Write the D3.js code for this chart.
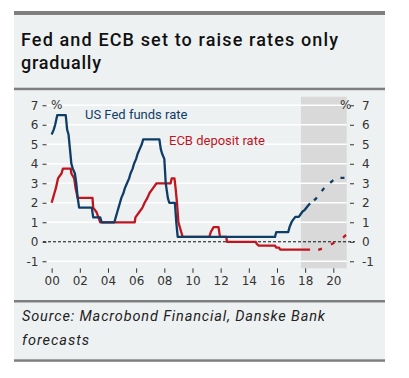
<!DOCTYPE html>
<html><head><meta charset="utf-8">
<script src="https://cdn.jsdelivr.net/npm/d3@7"></script>
<style>body{margin:0;background:#fff}svg{display:block}</style>
</head><body>
<script>
// ---- data (decimal year, percent) ----
const fedYears = [2000.0,2000.15,2000.25,2000.4,2001.0,2001.1,2001.2,2001.3,2001.4,2001.5,2001.65,2001.75,2001.85,2001.95,2002.85,2002.95,2003.45,2003.55,2004.45,2004.55,2004.65,2004.75,2004.85,2004.95,2005.1,2005.2,2005.35,2005.5,2005.6,2005.75,2005.85,2006.0,2006.1,2006.25,2006.4,2006.5,2007.65,2007.75,2007.85,2008.0,2008.1,2008.25,2008.35,2008.75,2008.85,2008.95,2015.86,2015.95,2016.8,2016.9,2017.05,2017.3,2017.55,2017.8,2017.95,2018.2,2018.35];
const fedValues = [5.5,5.75,6.0,6.5,6.5,5.75,5.5,4.75,4.0,3.75,3.5,3.0,2.25,1.75,1.75,1.25,1.25,1.0,1.0,1.25,1.5,1.75,2.0,2.25,2.5,2.75,3.0,3.25,3.5,3.75,4.0,4.25,4.5,4.75,5.0,5.25,5.25,4.75,4.5,4.25,3.0,2.25,2.0,2.0,1.0,0.25,0.25,0.5,0.5,0.77,1.03,1.28,1.28,1.54,1.62,1.85,1.97];
const fedFcYears = [2018.35,2018.75,2019.4,2019.9,2020.2,2020.95];
const fedFcValues = [1.97,2.2,2.8,3.1,3.28,3.28];

const ecbYears = [2000.0,2000.1,2000.2,2000.3,2000.45,2000.7,2000.8,2001.35,2001.4,2001.6,2001.7,2001.85,2002.9,2002.95,2003.2,2003.45,2005.9,2005.95,2006.2,2006.45,2006.6,2006.8,2006.95,2007.2,2007.45,2008.45,2008.52,2008.72,2008.8,2008.9,2009.0,2009.2,2009.3,2011.2,2011.3,2011.5,2011.85,2011.95,2012.4,2012.45,2014.5,2014.55,2014.7,2015.86,2015.95,2016.15,2016.22,2018.35];
const ecbValues = [2.0,2.25,2.5,2.75,3.25,3.5,3.75,3.75,3.5,3.25,2.75,2.25,2.25,1.75,1.5,1.0,1.0,1.25,1.5,1.75,2.0,2.25,2.5,2.75,3.0,3.0,3.25,3.25,2.75,2.0,1.0,0.5,0.25,0.25,0.5,0.75,0.75,0.25,0.25,0.0,0.0,-0.1,-0.2,-0.2,-0.3,-0.3,-0.4,-0.4];
const ecbFcYears = [2018.35,2019.0,2019.4,2019.8,2020.2,2020.6,2020.9];
const ecbFcValues = [-0.4,-0.4,-0.3,-0.15,0.02,0.15,0.35];

const yTicks = [-1,0,1,2,3,4,5,6,7];
const yTickLabels = ["-1","0","1","2","3","4","5","6","7"];
const xTicks = [2000,2002,2004,2006,2008,2010,2012,2014,2016,2018,2020];
const xTickLabels = ["00","02","04","06","08","10","12","14","16","18","20"];
const forecastStart = 2017.7;

const title1 = "Fed and ECB set to raise rates only";
const title2 = "gradually";
const source1 = "Source: Macrobond Financial, Danske Bank";
const source2 = "forecasts";

// ---- drawing ----
const W = 409, H = 378;
const BLUE = "#0f3d66", RED = "#c0141e", PANEL = "#eef1f2", SHADE = "#d9d9d9", BORDER = "#7f7f7f";
const svg = d3.select("body").append("svg").attr("width", W).attr("height", H);

svg.append("rect").attr("x",14).attr("y",11).attr("width",371).attr("height",350).attr("fill",PANEL);
svg.append("rect").attr("x",14).attr("y",11).attr("width",371).attr("height",4).attr("fill",BORDER);
svg.append("rect").attr("x",14).attr("y",87.7).attr("width",371).attr("height",2.5).attr("fill",BORDER);
svg.append("rect").attr("x",14).attr("y",300).attr("width",371).attr("height",2.5).attr("fill",BORDER);
svg.append("rect").attr("x",14).attr("y",359.3).attr("width",371).attr("height",2.5).attr("fill",BORDER);

const FONT = "Roboto, 'DejaVu Sans', sans-serif";
svg.append("text").attr("x",21).attr("y",45.5).attr("font-family",FONT).attr("font-weight",500).attr("font-size",18).attr("fill","#111")
  .attr("textLength",317).attr("lengthAdjust","spacing").text(title1);
svg.append("text").attr("x",21).attr("y",68.5).attr("font-family",FONT).attr("font-weight",500).attr("font-size",18).attr("fill","#111")
  .attr("textLength",80).attr("lengthAdjust","spacing").text(title2);
svg.append("text").attr("x",22).attr("y",321).attr("font-family",FONT).attr("font-style","italic").attr("font-size",14.5).attr("fill","#222")
  .attr("textLength",303).attr("lengthAdjust","spacing").text(source1);
svg.append("text").attr("x",22).attr("y",344.5).attr("font-family",FONT).attr("font-style","italic").attr("font-size",14.5).attr("fill","#222")
  .attr("textLength",67).attr("lengthAdjust","spacing").text(source2);

const x = d3.scaleLinear().domain([1999.67, 2020.95]).range([47, 346.7]);
const y = d3.scaleLinear().domain([-1.36, 7.44]).range([268.3, 96.7]);

// forecast shading
svg.append("rect").attr("x", x(forecastStart)).attr("y", y.range()[1])
  .attr("width", x.range()[1]-x(forecastStart)).attr("height", y.range()[0]-y.range()[1]).attr("fill", SHADE);

// gridlines
svg.append("g").selectAll("line").data(yTicks.filter(d=>d!==0)).join("line")
  .attr("x1", x.range()[0]).attr("x2", x.range()[1]).attr("y1", d=>y(d)).attr("y2", d=>y(d))
  .attr("stroke","#fff").attr("stroke-width",1.5);

// axes
const AX = "#333", TFONT = "'DejaVu Sans', sans-serif";
const leftAxis = d3.axisLeft(y).tickValues(yTicks).tickSize(4).tickPadding(4).tickFormat((d,i)=>yTickLabels[i]);
const gl = svg.append("g").attr("transform",`translate(${x.range()[0]-0.5},0)`).call(leftAxis);
gl.select(".domain").remove();
gl.selectAll(".tick line").attr("stroke",AX);
gl.selectAll(".tick text").attr("font-family",TFONT).attr("font-size",12).attr("fill",AX);

const rightAxis = d3.axisRight(y).tickValues(yTicks).tickSize(4).tickPadding(8).tickFormat((d,i)=>yTickLabels[i]);
const gr = svg.append("g").attr("transform",`translate(350,0)`).call(rightAxis);
gr.select(".domain").remove();
gr.selectAll(".tick line").attr("stroke",AX);
gr.selectAll(".tick text").attr("font-family",TFONT).attr("font-size",12).attr("fill",AX);

const bottomAxis = d3.axisBottom(x).tickValues(xTicks).tickSize(4.5).tickPadding(4).tickFormat((d,i)=>xTickLabels[i]);
const gb = svg.append("g").attr("transform",`translate(0,${y.range()[0]})`).call(bottomAxis);
gb.select(".domain").remove();
gb.selectAll(".tick line").attr("stroke",AX);
gb.selectAll(".tick text").attr("font-family",TFONT).attr("font-size",12).attr("fill",AX);

// zero line
svg.append("line").attr("x1",43).attr("x2",355).attr("y1",y(0)).attr("y2",y(0))
  .attr("stroke","#111").attr("stroke-width",1).attr("stroke-dasharray","3,2");

// % labels
svg.append("text").attr("x",51).attr("y",y(7)).attr("dy","0.35em").attr("font-family",TFONT).attr("font-size",12).attr("fill",AX).text("%");
svg.append("text").attr("x",340).attr("y",y(7)).attr("dy","0.35em").attr("font-family",TFONT).attr("font-size",12).attr("fill",AX).text("%");

// lines
const line = d3.line().x(d=>x(d[0])).y(d=>y(d[1]));
const zip = (a,b)=>a.map((v,i)=>[v,b[i]]);
svg.append("path").datum(zip(ecbYears,ecbValues)).attr("d",line).attr("fill","none").attr("stroke",RED).attr("stroke-width",2.3).attr("stroke-linejoin","round");
svg.append("path").datum(zip(ecbFcYears,ecbFcValues)).attr("d",line).attr("fill","none").attr("stroke",RED).attr("stroke-width",2.3).attr("stroke-dasharray","0,8,4,2");
svg.append("path").datum(zip(fedYears,fedValues)).attr("d",line).attr("fill","none").attr("stroke",BLUE).attr("stroke-width",2.3).attr("stroke-linejoin","round");
svg.append("path").datum(zip(fedFcYears,fedFcValues)).attr("d",line).attr("fill","none").attr("stroke",BLUE).attr("stroke-width",2.3).attr("stroke-dasharray","0,5,4,3");

// series labels
svg.append("text").attr("x",85).attr("y",118.5).attr("font-family",FONT).attr("font-size",13).attr("fill",BLUE).text("US Fed funds rate");
svg.append("text").attr("x",169).attr("y",144.5).attr("font-family",FONT).attr("font-size",13).attr("fill",RED).text("ECB deposit rate");
</script>
</body></html>
